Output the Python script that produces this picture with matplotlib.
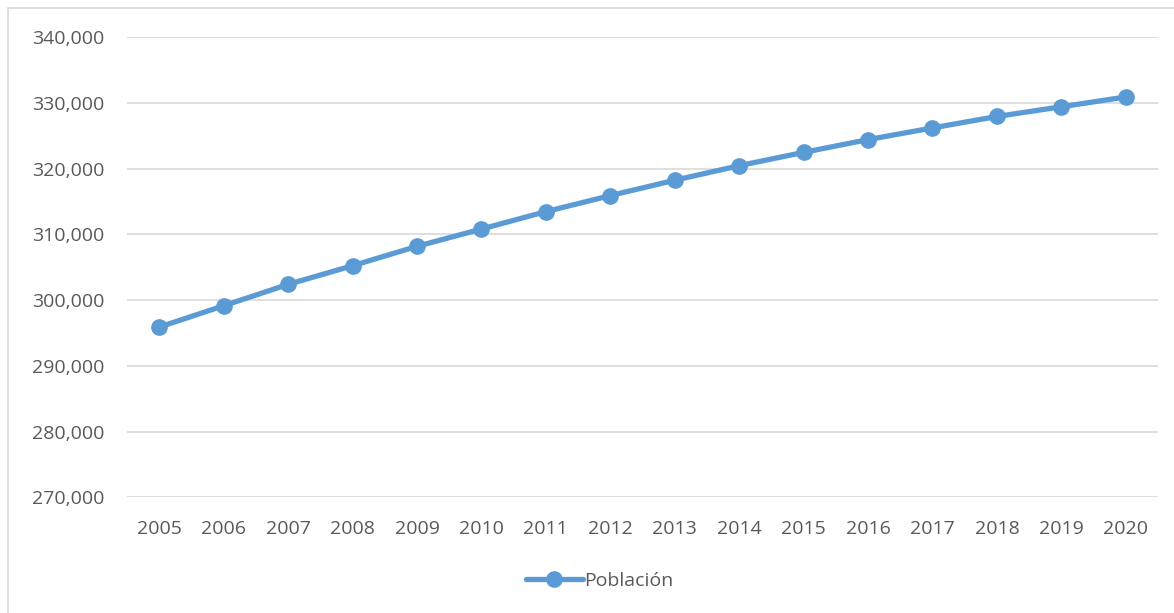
import matplotlib.pyplot as plt
from matplotlib.patches import Rectangle
from matplotlib.ticker import FuncFormatter

years = ['2005', '2006', '2007', '2008', '2009', '2010', '2011', '2012',
         '2013', '2014', '2015', '2016', '2017', '2018', '2019', '2020']
poblacion = [295900, 299150, 302400, 305240, 308190, 310820, 313470, 315910,
             318250, 320460, 322490, 324430, 326210, 327950, 329430, 330920]

plt.rcParams['font.family'] = ['Open Sans', 'DejaVu Sans']

fig = plt.figure(figsize=(11.74, 6.13), dpi=100)
ax = fig.add_axes([127 / 1174, 1 - 497.3 / 613, 1031 / 1174, 460 / 613])

# light chart border (cut at right/bottom like the source)
fig.patches.append(Rectangle((8 / 1174, -0.1), 1.2, 1 - 8 / 613 + 0.1,
                             transform=fig.transFigure, fill=False,
                             edgecolor='#d9d9d9', lw=1.2))

x = list(range(len(years)))
ax.plot(x, poblacion, color='#5b9bd5', lw=3.8, marker='o', markersize=11,
        label='Población', solid_capstyle='round')

ax.set_xlim(-0.5, len(years) - 0.5)
ax.set_ylim(270000, 340000)
ax.set_yticks(range(270000, 340001, 10000))
ax.yaxis.set_major_formatter(FuncFormatter(lambda v, p: f'{int(v):,}'))
ax.set_xticks(x)
ax.set_xticklabels(years)

ax.grid(axis='y', color='#d9d9d9', lw=1.2)
ax.set_axisbelow(True)
for s in ax.spines.values():
    s.set_visible(False)
ax.tick_params(length=0, labelsize=14, labelcolor='#595959')
ax.tick_params(axis='y', pad=16)
ax.tick_params(axis='x', pad=16)

fig.legend(loc='center', bbox_to_anchor=(600 / 1174, 1 - 581 / 613),
           frameon=False, fontsize=14, labelcolor='#595959',
           handlelength=2.9, handletextpad=0.1)

fig.savefig('out.png', dpi=100)
